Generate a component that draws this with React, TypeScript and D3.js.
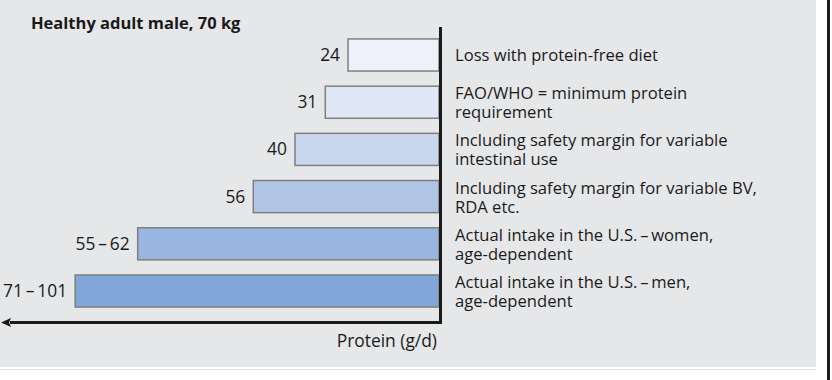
import React from "react";
import * as d3 from "d3";

const title = "Healthy adult male, 70 kg";
const axisLabel = "Protein (g/d)";
const rowIds = ["loss", "fao", "intestinal", "rda", "women", "men"];
const valueLabels = ["24", "31", "40", "56", "55\u2009\u2013\u200962", "71\u2009\u2013\u2009101"];
// bar extent along the (schematic) protein axis
const barExtents = [24, 30, 38, 49, 79.5, 96];
const descriptions: string[][] = [
  ["Loss with protein-free diet"],
  ["FAO/WHO = minimum protein", "requirement"],
  ["Including safety margin for variable", "intestinal use"],
  ["Including safety margin for variable BV,", "RDA etc."],
  ["Actual intake in the U.S.\u2009\u2013\u2009women,", "age-dependent"],
  ["Actual intake in the U.S.\u2009\u2013\u2009men,", "age-dependent"],
];
const barColors = ["#eef1f9", "#e1e8f5", "#c9d6ee", "#b0c4e6", "#99b6e1", "#82a6da"];

const W = 832;
const H = 380;
const axisX = 440.5;
const barRight = 439;
const axisY = 322.5;
const font = "'Open Sans', 'Noto Sans', sans-serif";
const fs = 17.4;
const descFs = 16.6;

export default function App() {
  const x = d3.scaleLinear().domain([0, 100]).range([barRight, barRight - 379]);
  const y = d3
    .scaleBand<string>()
    .domain(rowIds)
    .range([31.4, 314.6])
    .paddingInner(0.32)
    .paddingOuter(0.16);

  return (
    <svg
      width={W}
      height={H}
      style={{ position: "absolute", left: 0, top: 0, display: "block" }}
    >
      <rect x={0} y={0} width={W} height={H} fill="#ffffff" />
      <rect x={0} y={0} width={816} height={367} fill="#e6e7e9" />
      <rect x={0} y={369} width={816} height={1} fill="#e6e7e9" />
      <rect x={827} y={0} width={3} height={H} fill="#1c1c1c" />

      <text x={31} y={29} fontFamily={font} fontWeight={700} fontSize={16.5} fill="#1a1a1a">
        {title}
      </text>

      {rowIds.map((id, i) => {
        const y0 = y(id)!;
        const bw = y.bandwidth();
        const cy = y0 + bw / 2;
        const x0 = x(barExtents[i]);
        const lines = descriptions[i];
        return (
          <g key={id}>
            <rect
              x={x0}
              y={y0}
              width={barRight - x0}
              height={bw}
              fill={barColors[i]}
              stroke="#7f7f7f"
              strokeWidth={1.5}
            />
            <text
              x={x0 - 8}
              y={cy + 6}
              textAnchor="end"
              fontFamily={font}
              fontSize={fs}
              fill="#1a1a1a"
            >
              {valueLabels[i]}
            </text>
            <text
              x={455}
              y={lines.length === 1 ? cy + 6 : cy - 3}
              fontFamily={font}
              fontSize={descFs}
              fill="#1a1a1a"
            >
              {lines.map((ln, j) => (
                <tspan key={j} x={455} dy={j === 0 ? 0 : 19}>
                  {ln}
                </tspan>
              ))}
            </text>
          </g>
        );
      })}

      <line x1={axisX} y1={27} x2={axisX} y2={axisY + 1.5} stroke="#1a1a1a" strokeWidth={3} />
      <line x1={axisX + 1.5} y1={axisY} x2={10} y2={axisY} stroke="#1a1a1a" strokeWidth={3} />
      <path
        d={`M1,${axisY} L11,${axisY - 4.5} L9,${axisY} L11,${axisY + 4.5} Z`}
        fill="#1a1a1a"
      />
      <text
        x={437}
        y={347}
        textAnchor="end"
        fontFamily={font}
        fontSize={fs}
        fill="#1a1a1a"
      >
        {axisLabel}
      </text>
    </svg>
  );
}
